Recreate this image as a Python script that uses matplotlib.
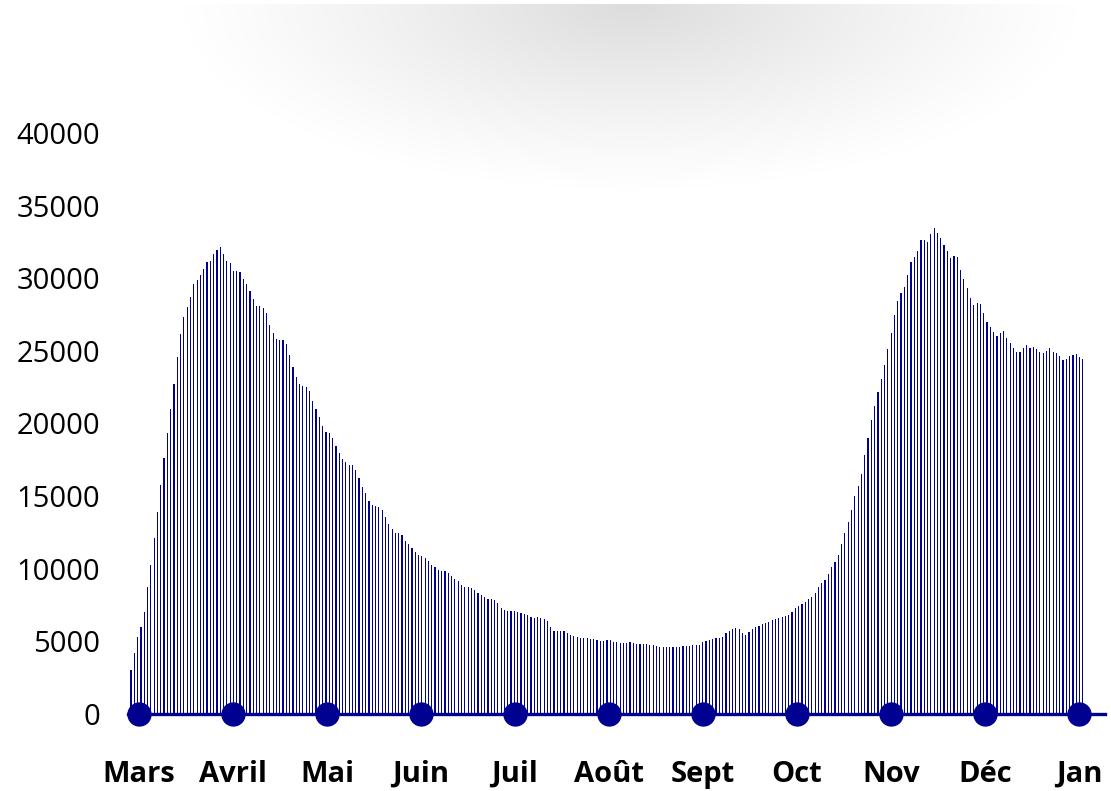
"""
Hospitalisations en cours (France, 18 mars - 31 déc.) : barres journalières.
Output -> out.png
"""
import matplotlib
matplotlib.use("Agg")
import matplotlib.pyplot as plt
import numpy as np

NAVY = "#000091"

# ── Data ──────────────────────────────────────────────────────────────────────
MONTHS = ["Mars", "Avril", "Mai", "Juin", "Juil", "Août",
          "Sept", "Oct", "Nov", "Déc", "Jan"]
Y_TICKS = [0, 5000, 10000, 15000, 20000, 25000, 30000, 35000, 40000]

# daily values, 18 March -> 31 December
rise_1 = [3030, 4180, 5330, 5970, 7050, 8770, 10260, 12140, 13930, 15770,
          17650, 19370, 21000, 22720, 24560, 26140, 27330, 28020, 28730, 29580,
          29880, 30250, 30640, 31120, 31170, 31670, 31950, 32130]
fall_1 = [31650, 31170, 31070, 30500, 30500, 30430, 29950, 29630, 29120, 28550,
          28110, 28110, 27970, 27630, 26760, 26210, 25820, 25770, 25750, 25470,
          24720, 23910, 23200, 22700, 22560, 22510, 22240, 21530, 20980, 20450,
          19830, 19390, 19330, 19000, 18430, 17950, 17560, 17370, 17140, 17140,
          16800, 16270, 15650, 15190, 14670, 14390, 14320, 14270, 14020, 13540,
          13080, 12710, 12460, 12460, 12300, 11930, 11700, 11450, 11170, 10950,
          10900]
summer = [10740, 10530, 10260, 10120, 9940, 9820, 9820, 9710, 9500, 9290,
          9130, 8880, 8770, 8770, 8650, 8540, 8310, 8170, 8030, 7920,
          7920, 7830, 7620, 7300, 7180, 7090, 7070, 7070, 7000, 6950,
          6910, 6820, 6680, 6630, 6650, 6590, 6520, 6400, 5970, 5740,
          5710, 5700, 5700, 5550, 5460, 5370, 5320, 5230, 5230, 5210,
          5180, 5140, 5070, 5030, 5030, 5070, 5070, 4980, 4940, 4890,
          4910, 4890, 4940, 4870]
rise_2 = [4840, 4840, 4800, 4800, 4750, 4750, 4700, 4610, 4590, 4590,
          4590, 4590, 4590, 4630, 4680, 4680, 4680, 4730, 4730, 4750,
          4940, 5000, 5090, 5180, 5210, 5250, 5300, 5550, 5710, 5850,
          5900, 5850, 5550, 5420, 5650, 5870, 5990, 6080, 6170, 6240,
          6310, 6470, 6540, 6610, 6700, 6770, 6790, 7020, 7300, 7440,
          7570, 7690, 7920, 8060, 8310, 8720, 9000, 9230, 9640, 10100,
          10470, 10950, 11680, 12460, 13220, 14070, 15030, 15680]
wave_2 = [16500, 17810, 18980, 20240, 21210, 22170, 23040, 24010, 25130, 26250,
          27470, 28440, 28960, 29380, 30220, 31100, 31440, 31900, 32630, 32630,
          32470, 33050, 33440, 33120, 32770, 32290, 31880, 31370, 31530, 31460,
          30570, 29950, 29310, 28640, 28160, 28300, 28230, 27630, 27010, 26670,
          26280, 26050, 26210, 26350, 25890, 25520, 25180, 24920, 24920, 25200,
          25430, 25220, 25290, 25130, 24920, 24830, 24990, 25220, 24920, 24830,
          24630, 24370, 24460, 24670, 24720, 24790, 24600, 24420]

values = rise_1 + fall_1 + summer + rise_2 + wave_2
days = np.arange(len(values))

W, H = 1111, 791


def main():
    fig = plt.figure(figsize=(W / 100, H / 100), dpi=100)
    plt.rcParams["font.family"] = ["Open Sans", "DejaVu Sans"]

    # soft grey shadow at the top of the card
    bg = fig.add_axes([0, 0, 1, 1], zorder=0)
    yy, xx = np.mgrid[0:H, 0:W]
    r = np.sqrt(((xx - 630) / 470.0) ** 2 + ((yy - 4) / 195.0) ** 2)
    alpha = 0.14 * np.clip(1 - r, 0, 1) ** 1.2
    alpha[yy < 4] = 0
    shade = np.zeros((H, W, 4))
    shade[..., 3] = alpha
    bg.imshow(shade, extent=(0, W, H, 0), aspect="auto", interpolation="bilinear")
    bg.set_xlim(0, W)
    bg.set_ylim(H, 0)
    bg.axis("off")

    # main axes: x0 at px 128, x1 at px 1105, y=0 at px 714, y=40000 at px 133
    ax = fig.add_axes([128 / W, (H - 714) / H, (1105 - 128) / W, (714 - 133) / H],
                      zorder=1)
    ax.patch.set_alpha(0)
    ax.bar(days, values, width=0.36, color=NAVY, linewidth=0, zorder=2)
    ax.axhline(0, color=NAVY, linewidth=2.4, zorder=3, clip_on=False)
    ax.set_xlim(-0.91, 294.7)
    ax.set_ylim(0, 40000)
    ax.set_yticks(Y_TICKS)
    ax.set_yticklabels([str(v) for v in Y_TICKS], fontsize=21)
    ax.tick_params(axis="y", length=0, pad=20)
    ax.set_xticks([])
    for s in ax.spines.values():
        s.set_visible(False)

    # month markers on their own evenly spaced scale
    mx = ax.twiny()
    mx.set_xlim(-0.117, 10.277)
    mx.plot(range(len(MONTHS)), [0] * len(MONTHS), "o", ms=16.5, color=NAVY,
            clip_on=False, zorder=5)
    mx.xaxis.set_ticks_position("bottom")
    mx.set_xticks(range(len(MONTHS)))
    mx.set_xticklabels(MONTHS, fontsize=21, fontweight="bold")
    mx.tick_params(axis="x", length=0, pad=33)
    for s in mx.spines.values():
        s.set_visible(False)

    fig.savefig("out.png", dpi=100)
    plt.close(fig)


if __name__ == "__main__":
    main()
